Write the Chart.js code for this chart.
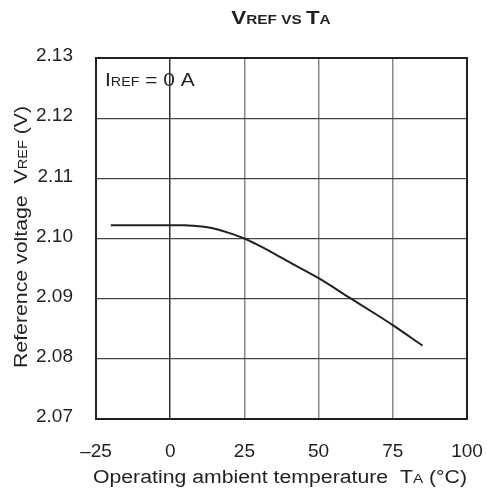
<!DOCTYPE html>
<html>
<head>
<meta charset="utf-8">
<style>
  html, body { margin: 0; padding: 0; background: #fff; }
</style>
</head>
<body>
<canvas id="chart1" width="487" height="498"></canvas>
<script src="https://cdn.jsdelivr.net/npm/chart.js@4.4.1/dist/chart.umd.min.js"></script>
<script>
// values
const temps = [-20, -10, 0, 5, 8, 12, 16, 20, 25, 30, 35, 40, 50, 60, 70, 75, 85];
const vref = [2.1022, 2.1022, 2.1022, 2.1022, 2.1021, 2.1019, 2.1015, 2.1009, 2.1000, 2.0988, 2.0975, 2.0961, 2.0934, 2.0903, 2.0872, 2.0856, 2.0822];

const xTicks = [-25, 0, 25, 50, 75, 100];
const xTickLabels = ['\u201325', '0', '25', '50', '75', '100'];
const yTicks = [2.07, 2.08, 2.09, 2.10, 2.11, 2.12, 2.13];

const FONT = 'Arial, "Liberation Sans", sans-serif';

// draws mixed size text (small cap subscripts), stretched a bit sideways like the scan
const drawRuns = (ctx, runs, x, y, align, stretch) => {
  let total = 0;
  runs.forEach(r => {
    ctx.font = `${r.bold ? 'bold ' : ''}${r.size}px ${FONT}`;
    total += ctx.measureText(r.text).width;
  });
  ctx.save();
  ctx.translate(x, y);
  ctx.scale(stretch, 1);
  let cx = align === 'left' ? 0 : -total / 2;
  ctx.textBaseline = 'alphabetic';
  ctx.textAlign = 'left';
  runs.forEach(r => {
    ctx.font = `${r.bold ? 'bold ' : ''}${r.size}px ${FONT}`;
    ctx.fillText(r.text, cx, 0);
    cx += ctx.measureText(r.text).width;
  });
  ctx.restore();
};

const labelsPlugin = {
  id: 'labels',
  afterDraw(chart) {
    const ctx = chart.ctx;
    const area = chart.chartArea;
    ctx.save();
    ctx.fillStyle = '#231f20';

    // title
    drawRuns(ctx, [
      { text: 'V', size: 19, bold: true },
      { text: 'REF', size: 13, bold: true },
      { text: ' VS ', size: 13, bold: true },
      { text: 'T', size: 19, bold: true },
      { text: 'A', size: 13, bold: true }
    ], 281, 24, 'center', 1.18);

    // condition note
    drawRuns(ctx, [
      { text: 'I', size: 19 },
      { text: 'REF', size: 13 },
      { text: ' = 0 A', size: 19 }
    ], area.left + 9, 86, 'left', 1.1);

    // x title
    drawRuns(ctx, [
      { text: 'Operating ambient temperature  T', size: 18 },
      { text: 'A', size: 13 },
      { text: ' (\u00b0C)', size: 18 }
    ], 280, 483, 'center', 1.18);

    // y title
    ctx.translate(27, 237);
    ctx.rotate(-Math.PI / 2);
    drawRuns(ctx, [
      { text: 'Reference voltage  V', size: 19 },
      { text: 'REF', size: 13 },
      { text: ' (V)', size: 19 }
    ], 0, 0, 'center', 1.12);
    ctx.restore();

    // frame
    ctx.save();
    ctx.strokeStyle = '#231f20';
    ctx.lineWidth = 2;
    ctx.strokeRect(area.left, area.top, area.right - area.left, area.bottom - area.top);
    ctx.restore();
  }
};

const chart1 = new Chart(document.querySelector('#chart1'), {
  type: 'line',
  data: {
    datasets: [{
      label: 'VREF',
      data: temps.map((t, i) => ({ x: t, y: vref[i] })),
      borderColor: '#231f20',
      borderWidth: 2,
      pointRadius: 0,
      cubicInterpolationMode: 'monotone',
      fill: false
    }]
  },
  options: {
    responsive: false,
    devicePixelRatio: 1,
    animation: false,
    layout: { padding: { top: 58, right: 20, left: 0, bottom: 0 } },
    plugins: {
      legend: { display: false },
      tooltip: { enabled: false },
      title: { display: false }
    },
    scales: {
      x: {
        type: 'linear',
        min: -25,
        max: 100,
        afterBuildTicks: (scale) => { scale.ticks = xTicks.map(v => ({ value: v })); },
        afterFit: (scale) => {
          scale.height = 79;
          scale.paddingLeft = 0;
          scale.paddingRight = 0;
        },
        border: { display: false },
        grid: {
          color: (c) => c.tick && c.tick.value === 0 ? '#333' : '#888',
          lineWidth: 1.5,
          drawTicks: false
        },
        ticks: {
          padding: 21,
          color: '#231f20',
          font: { family: FONT, size: 19 },
          callback: (v) => xTickLabels[xTicks.indexOf(v)]
        }
      },
      y: {
        type: 'linear',
        min: 2.07,
        max: 2.13,
        afterBuildTicks: (scale) => { scale.ticks = yTicks.map(v => ({ value: v })); },
        afterFit: (scale) => {
          scale.width = 96;
          scale.paddingTop = 0;
          scale.paddingBottom = 0;
        },
        border: { display: false },
        grid: {
          color: '#444',
          lineWidth: 1.2,
          drawTicks: false
        },
        ticks: {
          padding: 23,
          labelOffset: -2,
          color: '#231f20',
          font: { family: FONT, size: 19 },
          callback: (v) => v.toFixed(2)
        }
      }
    }
  },
  plugins: [labelsPlugin]
});
</script>
</body>
</html>
